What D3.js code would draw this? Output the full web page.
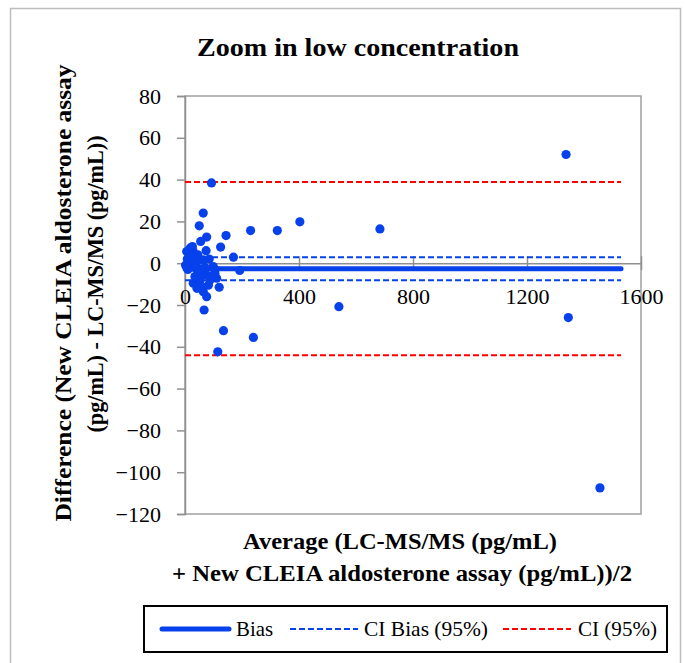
<!DOCTYPE html>
<html><head><meta charset="utf-8">
<script src="https://cdn.jsdelivr.net/npm/d3@7"></script>
<style>
html,body{margin:0;padding:0;background:#fff;}
svg{display:block;font-family:"Liberation Serif","DejaVu Serif",serif;}
</style></head>
<body>
<svg id="chart" width="685" height="663"></svg>
<script>
// ---- data ----
const avgValues = [1337,1345,1456,684,403,324,540,230,240,115,135,93,64,50,144,125,170,192,76,55,67,76,120,
  18,6,29,74,2,12,23,40,64,35,29,53,76,99,105,111,58,64,88,47,21,105,10,45,33,15,50,82,95,42,60,26,8,70,85,38];
const diffValues = [52,-26,-107.5,16.4,19.8,15.6,-20.8,15.6,-35.5,-42.4,-32.3,38.4,24,17.9,13.2,7.7,2.9,-3.5,12.5,10.4,-22.4,-16,-11.5,
  7.2,5.6,5.6,6,-1,1.6,-1.6,0,1.6,-6.4,-9.6,-8,-5.6,-1.6,-4.8,-7.2,-11.2,-13.6,-8,-3.2,3,-3,-3,4,1,0.5,-5,-10.5,-6,-12,-3,8,2,-2,2,-2.5];
const biasValue = -2.6;
const ciBiasValues = [2.9, -8.2];
const ciValues = [38.8, -44.1];
const lineRange = [0, 1530];
const xTicks = [0, 400, 800, 1200, 1600];
const yTicks = [-120,-100,-80,-60,-40,-20,0,20,40,60,80];
const legendLabels = ["Bias", "CI Bias (95%)", "CI (95%)"];

const BLUE = "#0641EC", RED = "#FF0000";
const svg = d3.select("#chart");

// outer chart border
svg.append("rect").attr("x",10.5).attr("y",8.5).attr("width",670).attr("height",670)
  .attr("fill","none").attr("stroke","#BDBDBD").attr("stroke-width",1.5);

const L=185, R=641, T=96, B=514;
const x = d3.scaleLinear().domain([0,1600]).range([L,R]);
const y = d3.scaleLinear().domain([-120,80]).range([B,T]);

// plot area border
svg.append("rect").attr("x",L).attr("y",T).attr("width",R-L).attr("height",B-T)
  .attr("fill","none").attr("stroke","#A0A0A0").attr("stroke-width",1.5);

// y axis
const yAxis = svg.append("g").attr("transform",`translate(${L},0)`)
  .call(d3.axisLeft(y).tickValues(yTicks).tickSize(8).tickPadding(16).tickFormat(d3.format("d")));
yAxis.select(".domain").attr("stroke","#909090").attr("stroke-width",1.5);
yAxis.selectAll(".tick line").attr("stroke","#909090").attr("stroke-width",1.5);
yAxis.selectAll(".tick text").attr("font-family","Liberation Serif").attr("font-size",22).attr("fill","#000");

// x axis at y=0
const xAxisG = svg.append("g").attr("transform",`translate(0,${y(0)})`)
  .call(d3.axisBottom(x).tickValues(xTicks).tickSize(0).tickPadding(25).tickFormat(d3.format("d")));
xAxisG.select(".domain").attr("stroke","#909090").attr("stroke-width",1.5);
xAxisG.selectAll(".tick text").attr("font-family","Liberation Serif").attr("font-size",22).attr("fill","#000");
xAxisG.selectAll(".tick").append("line").attr("y1",-7).attr("y2",7).attr("stroke","#909090").attr("stroke-width",1.5);

// reference lines
function hline(v, color, width, dash, cap){
  svg.append("line").attr("x1",x(lineRange[0])).attr("x2",x(lineRange[1]))
    .attr("y1",y(v)).attr("y2",y(v)).attr("stroke",color).attr("stroke-width",width)
    .attr("stroke-dasharray",dash).attr("stroke-linecap",cap||"butt");
}
ciValues.forEach(v=>hline(v,RED,2,"6,3"));
ciBiasValues.forEach(v=>hline(v,BLUE,2,"6,3"));
hline(biasValue,BLUE,5,null,"round");

// points
svg.append("g").selectAll("circle").data(avgValues.map((a,i)=>[a,diffValues[i]]))
  .join("circle").attr("cx",d=>x(d[0])).attr("cy",d=>y(d[1])).attr("r",4.6).attr("fill",BLUE);

function fitText(sel, len){ sel.attr("textLength",len).attr("lengthAdjust","spacingAndGlyphs"); return sel; }

// title
fitText(svg.append("text").attr("x",358).attr("y",56).attr("text-anchor","middle")
  .attr("font-weight","bold").attr("font-size",26).text("Zoom in low concentration"), 322);

// y title
fitText(svg.append("text").attr("transform",`translate(71,293) rotate(-90)`).attr("font-weight","bold").attr("font-size",24)
  .attr("text-anchor","middle").text("Difference (New CLEIA aldosterone assay"), 457);
fitText(svg.append("text").attr("transform",`translate(103,284) rotate(-90)`).attr("font-weight","bold").attr("font-size",24)
  .attr("text-anchor","middle").text("(pg/mL) - LC-MS/MS (pg/mL))"), 297);

// x title
fitText(svg.append("text").attr("x",400).attr("y",549).attr("text-anchor","middle").attr("font-weight","bold").attr("font-size",24)
  .text("Average (LC-MS/MS (pg/mL)"), 314);
fitText(svg.append("text").attr("x",402).attr("y",581).attr("text-anchor","middle").attr("font-weight","bold").attr("font-size",24)
  .text("+ New CLEIA aldosterone assay (pg/mL))/2"), 460);

// legend
svg.append("rect").attr("x",144).attr("y",606).attr("width",523).attr("height",46)
  .attr("fill","#fff").attr("stroke","#000").attr("stroke-width",2);
const legItems = [
  {label:legendLabels[0], color:BLUE, w:5, dash:null, cap:"round", x1:162, x2:229, tx:236, len:37},
  {label:legendLabels[1], color:BLUE, w:2, dash:"6,3", cap:"butt", x1:290, x2:358, tx:364, len:124},
  {label:legendLabels[2], color:RED, w:2, dash:"6,3", cap:"butt", x1:503, x2:571, tx:578, len:79}
];
legItems.forEach(it=>{
  svg.append("line").attr("x1",it.x1).attr("x2",it.x2).attr("y1",629).attr("y2",629)
    .attr("stroke",it.color).attr("stroke-width",it.w).attr("stroke-dasharray",it.dash).attr("stroke-linecap",it.cap);
  fitText(svg.append("text").attr("x",it.tx).attr("y",636).attr("font-size",21).text(it.label), it.len);
});
</script>
</body></html>
